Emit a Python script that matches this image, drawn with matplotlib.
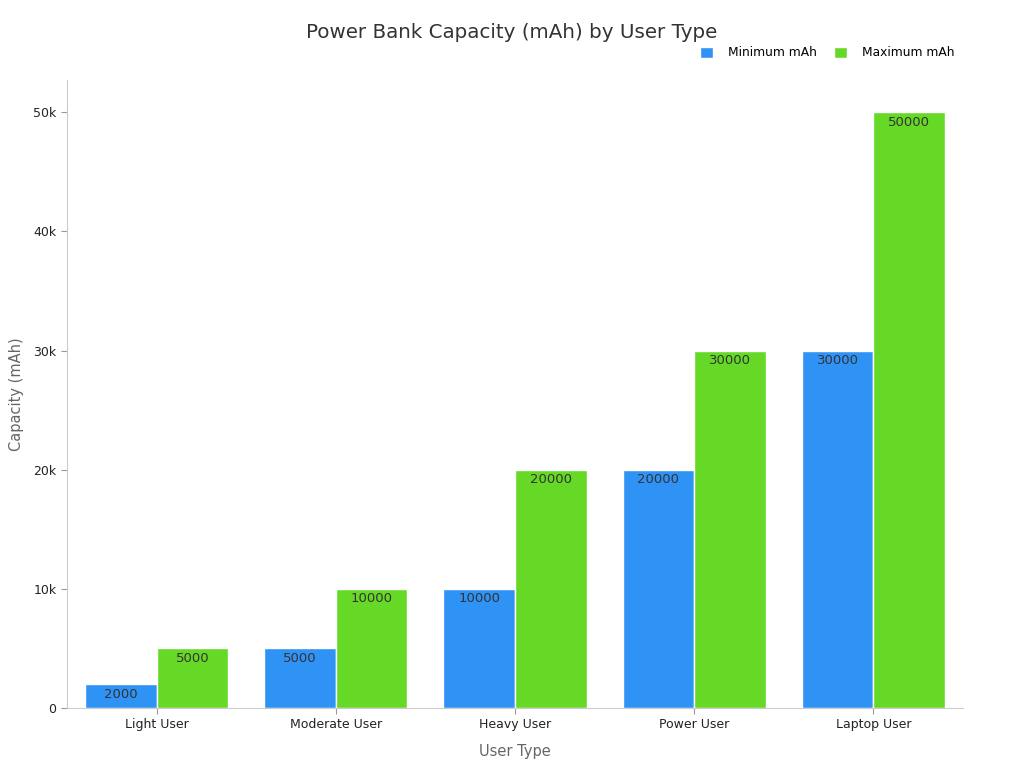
import numpy as np
import matplotlib
matplotlib.use("Agg")
from matplotlib import pyplot as plt
from matplotlib.ticker import FuncFormatter

# data
user_types = ["Light User", "Moderate User", "Heavy User", "Power User", "Laptop User"]
min_mah = [2000, 5000, 10000, 20000, 30000]
max_mah = [5000, 10000, 20000, 30000, 50000]

blue = "#2f92f5"
green = "#66d926"

fig = plt.figure(figsize=(10.24, 7.68), dpi=100)
ax = fig.add_axes([67/1024, 60/768, 896/1024, 628/768])

x = np.arange(len(user_types))
w = 0.4
b1 = ax.bar(x - w/2, min_mah, w, color=blue, edgecolor="white", linewidth=1, label="Minimum mAh")
b2 = ax.bar(x + w/2, max_mah, w, color=green, edgecolor="white", linewidth=1, label="Maximum mAh")

# value labels just inside the top of each bar
for bars in (b1, b2):
    for r in bars:
        h = r.get_height()
        ax.annotate(f"{int(h)}", (r.get_x() + r.get_width()/2, h), xytext=(0, -2.5),
                    textcoords="offset points", ha="center", va="top",
                    fontsize=9.5, color="#333333")

ax.set_xlim(-0.5, 4.5)
ax.set_ylim(0, 52700)
ax.set_xticks(x)
ax.set_xticklabels(user_types, fontsize=9, color="#222222")
ax.set_yticks([0, 10000, 20000, 30000, 40000, 50000])
ax.yaxis.set_major_formatter(FuncFormatter(lambda v, p: "0" if v == 0 else f"{int(v/1000)}k"))
ax.tick_params(axis="y", labelsize=9, colors="#222222", length=4, color="#999999")
ax.tick_params(axis="x", length=4, color="#999999")

for s in ["top", "right"]:
    ax.spines[s].set_visible(False)
for s in ["left", "bottom"]:
    ax.spines[s].set_color("#cccccc")

ax.set_xlabel("User Type", fontsize=10.5, color="#666666", labelpad=9)
ax.set_ylabel("Capacity (mAh)", fontsize=10.5, color="#666666", labelpad=7)

fig.text(0.5, 1 - 33/768, "Power Bank Capacity (mAh) by User Type", ha="center", va="center",
         fontsize=14.3, color="#333333")

fig.legend(handles=[b1, b2], loc="center right", bbox_to_anchor=(966/1024, 1 - 53/768),
           ncol=2, frameon=False, fontsize=8.8, handlelength=1.0, handleheight=1.0,
           columnspacing=1.4, handletextpad=1.3)

fig.savefig("out.png", dpi=100)
